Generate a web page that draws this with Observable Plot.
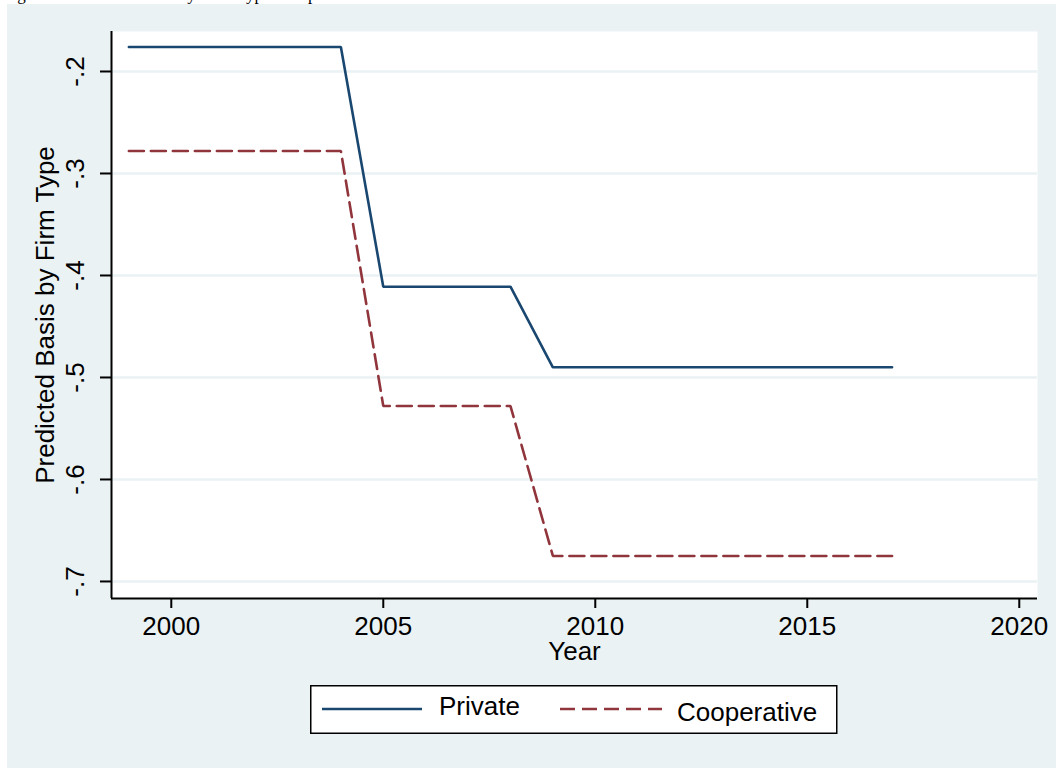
<!DOCTYPE html>
<html>
<head>
<meta charset="utf-8">
<script src="https://cdn.jsdelivr.net/npm/d3@7"></script>
<script src="https://cdn.jsdelivr.net/npm/@observablehq/plot@0.6"></script>
<style>
  html, body { margin: 0; padding: 0; background: #ffffff; }
  #wrap { position: relative; width: 1056px; height: 768px; overflow: hidden; font-family: "Liberation Sans", Arial, sans-serif; }
  #panel { position: absolute; left: 7px; top: 4px; right: 0; bottom: 0; background: #eaf2f3; }
  #title { position: absolute; left: 0; top: 0; }
  #chart { position: absolute; left: 0; top: 0; }
  #legend { position: absolute; left: 310px; top: 685px; }
</style>
</head>
<body>
<div id="wrap">
  <div id="panel"></div>
  <svg id="title" width="1056" height="4" style="overflow:hidden">
    <text x="3" y="0" font-family="'Liberation Serif', 'Times New Roman', serif" font-size="17" fill="#000">Figure 4: Predicted Basis by Firm Type Comparison</text>
  </svg>
  <div id="chart"></div>
  <svg id="legend" width="528" height="50"></svg>
</div>
<script>
// ---- data ----
const years = [1999, 2000, 2001, 2002, 2003, 2004, 2005, 2006, 2007, 2008, 2009, 2010, 2011, 2012, 2013, 2014, 2015, 2016, 2017];
const privateValues = [-0.176, -0.176, -0.176, -0.176, -0.176, -0.176, -0.411, -0.411, -0.411, -0.411, -0.490, -0.490, -0.490, -0.490, -0.490, -0.490, -0.490, -0.490, -0.490];
const cooperativeValues = [-0.278, -0.278, -0.278, -0.278, -0.278, -0.278, -0.528, -0.528, -0.528, -0.528, -0.675, -0.675, -0.675, -0.675, -0.675, -0.675, -0.675, -0.675, -0.675];
const seriesNames = ["Private", "Cooperative"];
const seriesColors = ["#1a476f", "#90353b"];
const xTicks = [2000, 2005, 2010, 2015, 2020];
const yTicks = [-0.7, -0.6, -0.5, -0.4, -0.3, -0.2];
const yTickLabels = ["-.7", "-.6", "-.5", "-.4", "-.3", "-.2"];
const xDomain = [1998.59, 2020.43];
const yDomain = [-0.7167, -0.1608];
const xTitle = "Year";
const yTitle = "Predicted Basis by Firm Type";

const rows = years.flatMap((yr, i) => [
  {year: yr, value: privateValues[i], type: seriesNames[0]},
  {year: yr, value: cooperativeValues[i], type: seriesNames[1]}
]);

const FS = 26;
const dash = "15,7";

const chart = Plot.plot({
  width: 1056,
  height: 680,
  marginLeft: 111,
  marginRight: 19,
  marginTop: 31,
  marginBottom: 82,
  style: {background: "transparent", fontFamily: "'Liberation Sans', Arial, sans-serif", fontSize: FS + "px", color: "#000"},
  x: {domain: xDomain, axis: null},
  y: {domain: yDomain, axis: null},
  marks: [
    Plot.frame({fill: "#ffffff", stroke: "none"}),
    Plot.ruleY(yTicks, {stroke: "#eaf2f3", strokeWidth: 2.5}),
    Plot.line(rows.filter(d => d.type === seriesNames[0]), {x: "year", y: "value", stroke: seriesColors[0], strokeWidth: 2.6, strokeLinejoin: "miter"}),
    Plot.line(rows.filter(d => d.type === seriesNames[1]), {x: "year", y: "value", stroke: seriesColors[1], strokeWidth: 2.6, strokeDasharray: dash, strokeLinejoin: "miter"}),
    Plot.ruleX([xDomain[0]], {stroke: "#000", strokeWidth: 2}),
    Plot.ruleY([yDomain[0]], {stroke: "#000", strokeWidth: 2}),
    Plot.axisX({ticks: xTicks, tickSize: 10, tickPadding: 8, tickFormat: d => String(d), fontSize: FS, label: null, strokeWidth: 2}),
    Plot.axisY({ticks: yTicks, tickSize: 11, tickFormat: () => "", label: null, strokeWidth: 2}),
    Plot.text(yTicks, {y: d => d, frameAnchor: "left", text: (d, i) => yTickLabels[i], rotate: -90, dx: -28, textAnchor: "middle", lineAnchor: "bottom", fontSize: FS}),
    Plot.text([xTitle], {frameAnchor: "bottom", text: d => d, dy: 61, textAnchor: "middle", lineAnchor: "bottom", fontSize: FS}),
    Plot.text([yTitle], {frameAnchor: "left", text: d => d, rotate: -90, dx: -58, textAnchor: "middle", lineAnchor: "bottom", fontSize: FS})
  ]
});
document.getElementById("chart").appendChild(chart);

// ---- legend ----
const lg = d3.select("#legend");
lg.append("rect").attr("x", 0.75).attr("y", 0.75).attr("width", 526).attr("height", 47.5)
  .attr("fill", "#fff").attr("stroke", "#000").attr("stroke-width", 1.5);
const items = [
  {x1: 12, x2: 112, tx: 129, ty: 30, dash: null},
  {x1: 250, x2: 352, tx: 367, ty: 36, dash: dash}
];
items.forEach((it, i) => {
  const ln = lg.append("line").attr("x1", it.x1).attr("x2", it.x2).attr("y1", 24).attr("y2", 24)
    .attr("stroke", seriesColors[i]).attr("stroke-width", 2.6);
  if (it.dash) ln.attr("stroke-dasharray", it.dash);
  lg.append("text").attr("x", it.tx).attr("y", it.ty).attr("font-size", FS)
    .attr("font-family", "'Liberation Sans', Arial, sans-serif").attr("fill", "#000").text(seriesNames[i]);
});
</script>
</body>
</html>
